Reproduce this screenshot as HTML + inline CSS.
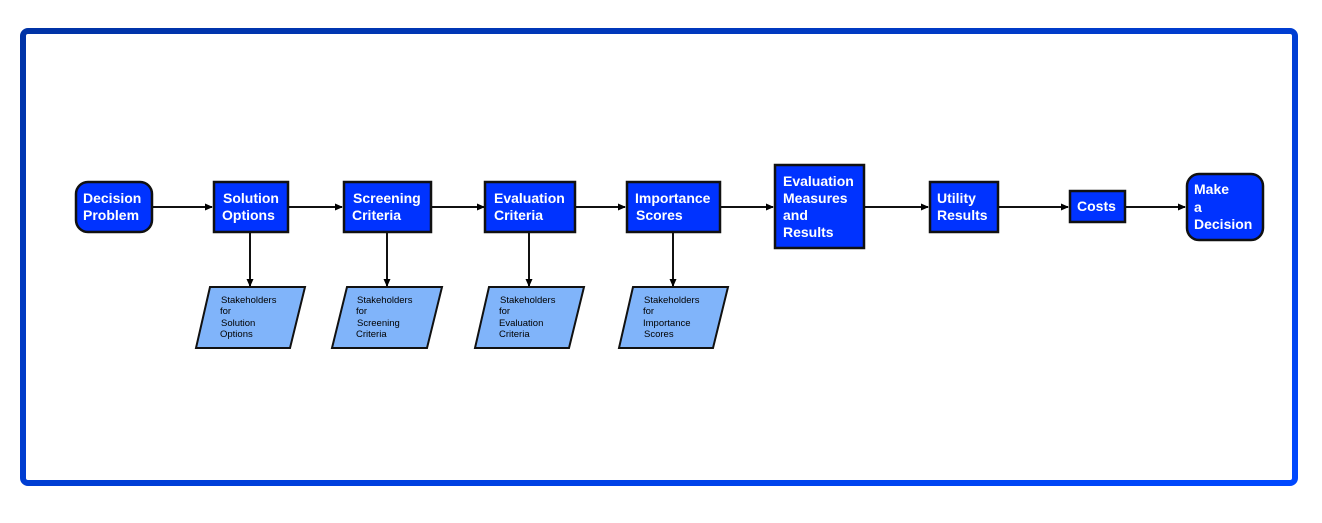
<!DOCTYPE html>
<html><head><meta charset="utf-8"><style>
html,body{margin:0;padding:0;background:#fff;}
svg{display:block;}
.t{font-family:"Liberation Sans",Arial,sans-serif;font-weight:bold;font-size:14px;fill:#fff;}
.s{font-family:"Liberation Sans",Arial,sans-serif;font-size:9.5px;fill:#000;}
</style></head><body>
<svg width="1322" height="523" viewBox="0 0 1322 523" xmlns="http://www.w3.org/2000/svg">
<defs>
<linearGradient id="g" x1="0" y1="0" x2="1" y2="1">
<stop offset="0" stop-color="#0033a6"/><stop offset="1" stop-color="#0048ff"/>
</linearGradient>
<marker id="a" markerWidth="8" markerHeight="8" refX="7" refY="4" orient="auto" markerUnits="userSpaceOnUse">
<path d="M0,0.5 L8,4 L0,7.5 Z" fill="#000"/></marker>
</defs>
<rect x="23" y="31" width="1272" height="452" rx="5" fill="#fff" stroke="url(#g)" stroke-width="6"/>
<g stroke="#111" stroke-width="2" fill="none" marker-end="url(#a)">
<line x1="152" y1="207" x2="212" y2="207"/>
<line x1="288" y1="207" x2="342" y2="207"/>
<line x1="431" y1="207" x2="484" y2="207"/>
<line x1="575" y1="207" x2="625" y2="207"/>
<line x1="720" y1="207" x2="773" y2="207"/>
<line x1="864" y1="207" x2="928" y2="207"/>
<line x1="998" y1="207" x2="1068" y2="207"/>
<line x1="1125" y1="207" x2="1185" y2="207"/>
<line x1="250" y1="232" x2="250" y2="286"/>
<line x1="387" y1="232" x2="387" y2="286"/>
<line x1="529" y1="232" x2="529" y2="286"/>
<line x1="673" y1="232" x2="673" y2="286"/>
</g>
<g fill="#0033ff" stroke="#111" stroke-width="2.5">
<rect x="76" y="182" width="76" height="50" rx="12"/>
<rect x="214" y="182" width="74" height="50"/>
<rect x="344" y="182" width="87" height="50"/>
<rect x="485" y="182" width="90" height="50"/>
<rect x="627" y="182" width="93" height="50"/>
<rect x="775" y="165" width="89" height="83"/>
<rect x="930" y="182" width="68" height="50"/>
<rect x="1070" y="191" width="55" height="31"/>
<rect x="1187" y="174" width="76" height="66" rx="12"/>
</g>
<g fill="#80b4fa" stroke="#111" stroke-width="2">
<polygon points="210,287 305,287 290,348 196,348"/>
<polygon points="347,287 442,287 427,348 332,348"/>
<polygon points="489,287 584,287 569,348 475,348"/>
<polygon points="633,287 728,287 713,348 619,348"/>
</g>
<g class="t">
<text x="83" y="203">Decision</text><text x="83" y="220">Problem</text>
<text x="223" y="203">Solution</text><text x="222" y="220">Options</text>
<text x="353" y="203">Screening</text><text x="352" y="220">Criteria</text>
<text x="494" y="203">Evaluation</text><text x="494" y="220">Criteria</text>
<text x="635" y="203">Importance</text><text x="636" y="220">Scores</text>
<text x="783" y="186">Evaluation</text><text x="783" y="203">Measures</text><text x="783" y="220">and</text><text x="783" y="237">Results</text>
<text x="937" y="203">Utility</text><text x="937" y="220">Results</text>
<text x="1077" y="211">Costs</text>
<text x="1194" y="194">Make</text><text x="1194" y="212">a</text><text x="1194" y="229">Decision</text>
</g>
<g class="s">
<text x="221" y="303">Stakeholders</text><text x="220" y="314">for</text><text x="221" y="326">Solution</text><text x="220" y="337">Options</text>
<text x="357" y="303">Stakeholders</text><text x="356" y="314">for</text><text x="357" y="326">Screening</text><text x="356" y="337">Criteria</text>
<text x="500" y="303">Stakeholders</text><text x="499" y="314">for</text><text x="499" y="326">Evaluation</text><text x="499" y="337">Criteria</text>
<text x="644" y="303">Stakeholders</text><text x="643" y="314">for</text><text x="643" y="326">Importance</text><text x="644" y="337">Scores</text>
</g>
</svg>
</body></html>
